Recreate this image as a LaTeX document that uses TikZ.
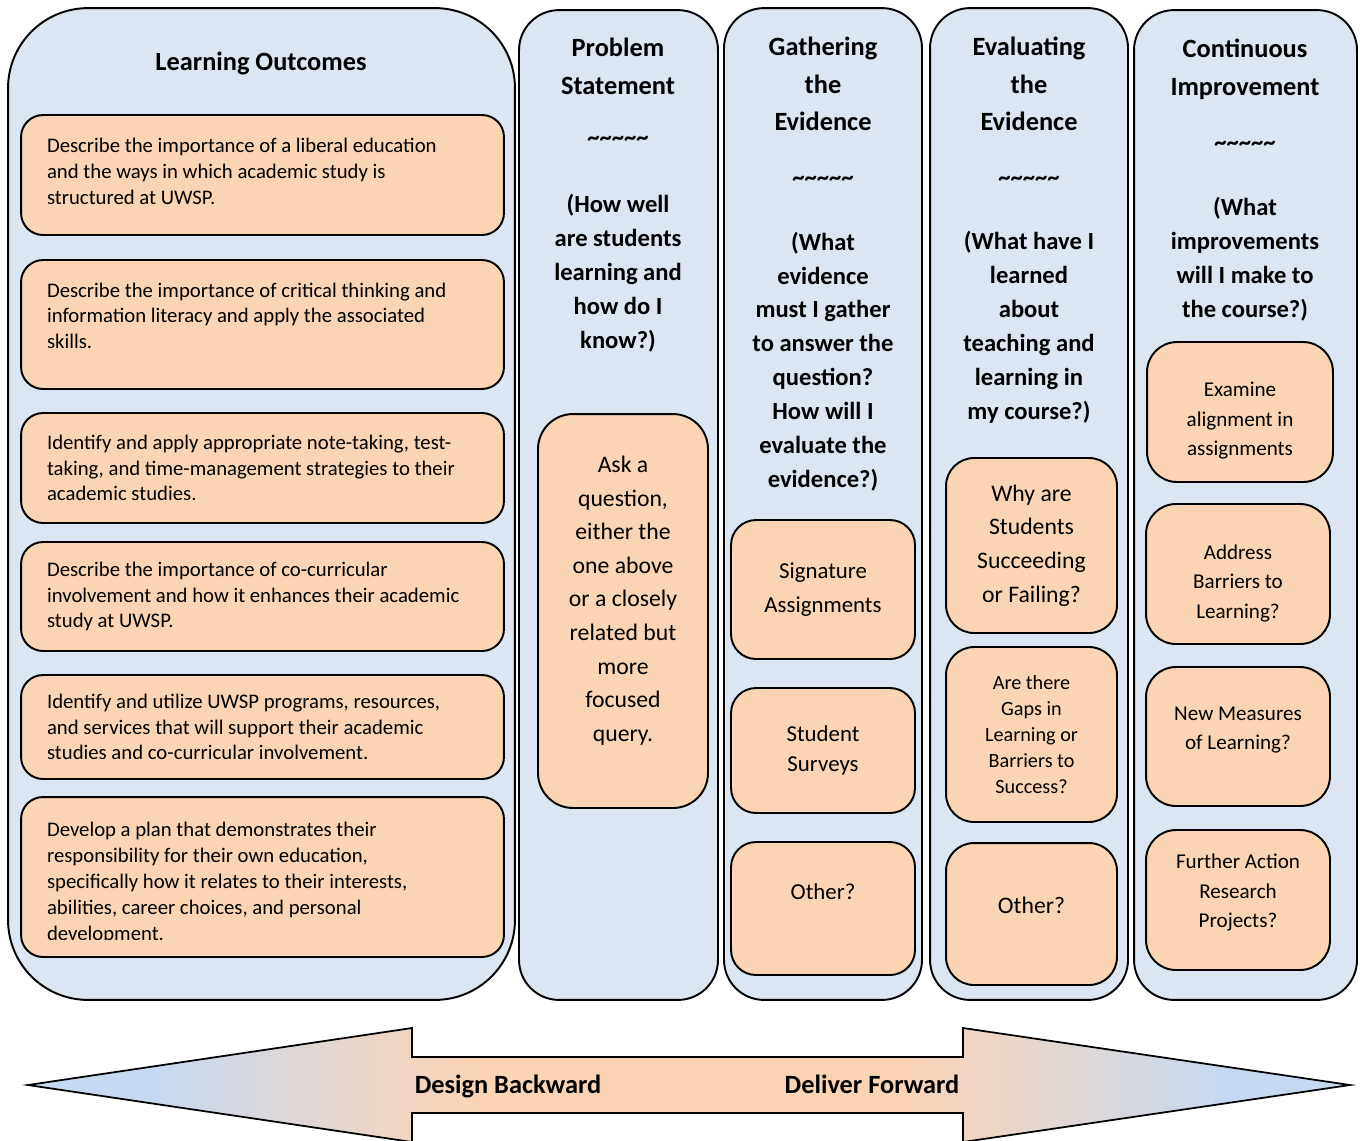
\documentclass[tikz,border=0pt]{standalone}
\usepackage{fontspec}
\setmainfont{Carlito}
\usepackage[HTML]{xcolor}
\usetikzlibrary{positioning}

\definecolor{colblue}{HTML}{DCE6F2}
\definecolor{peach}{HTML}{FBD4B4}
\definecolor{arrowblue}{HTML}{C6D9F1}

\newcommand{\titlefont}{\fontsize{15}{21.5}\selectfont\bfseries}
\newcommand{\askfont}{\fontsize{14}{19.3}\selectfont\bfseries}
\newcommand{\tildes}{\textasciitilde\textasciitilde\textasciitilde\textasciitilde\textasciitilde}
% struts that push a box text down (top) or up (bottom)
\newcommand{\topstrut}[1]{\rule{0pt}{#1}}
\newcommand{\botstrut}[1]{\rule[-#1]{0pt}{0pt}}
% outline of the double arrow
\newcommand{\twowaypath}{(28,1085) -- (412,1028) -- (412,1057) -- (963,1057) -- (963,1028) -- (1350,1085) -- (963,1142) -- (963,1113) -- (412,1113) -- (412,1142) -- cycle}

\begin{document}
\begin{tikzpicture}[x=0.02cm, y=-0.02cm, line width=1.1pt,
  every node/.style={font=\normalsize},
  stagecol/.style 2 args={draw, fill=colblue, rounded corners=0.8cm, minimum width=#1cm, minimum height=#2cm, inner sep=0pt},
  outcome/.style={draw, fill=peach, rounded corners=0.44cm, minimum width=9.66cm, minimum height=#1cm, inner xsep=0.52cm, inner ysep=0pt},
  outtext/.style={text width=8.62cm, align=flush left, font=\fontsize{11.8}{14.7}\selectfont},
  answer/.style 2 args={draw, fill=peach, align=center, minimum width=#1cm, minimum height=#2cm, inner sep=0pt, rounded corners=0.5cm}]
\useasboundingbox (0,0) rectangle (1364,1140);

% The five stages
\node[stagecol={10.14}{19.84}, rounded corners=1.6cm] (lo) at (261.5,504) {};
\node[stagecol={3.98}{19.8}] (ps) at (618.5,505) {};
\node[stagecol={3.96}{19.84}] (ge) at (823,504) {};
\node[stagecol={3.96}{19.84}] (ee) at (1029,504) {};
\node[stagecol={4.46}{19.8}] (ci) at (1245.5,505) {};

% Headers
\node[font=\titlefont] (loT) at (261,63) {Learning Outcomes};
\node[font=\titlefont, align=center] (psT) at (618,66) {Problem\\Statement};
\node[font=\askfont] (psS) at (618,141) {\tildes};
\node[font=\askfont, align=center] (psQ) at (618,273) {(How well\\are students\\learning and\\how do I\\know?)};
\node[font=\titlefont, align=center] (geT) at (823,84) {Gathering\\the\\Evidence};
\node[font=\askfont] (geS) at (823,181) {\tildes};
\node[font=\askfont, align=center] (geQ) at (823,361.5) {(What\\evidence\\must I gather\\to answer the\\question?\\How will I\\evaluate the\\evidence?)};
\node[font=\titlefont, align=center] (eeT) at (1029,84) {Evaluating\\the\\Evidence};
\node[font=\askfont] (eeS) at (1029,181) {\tildes};
\node[font=\askfont, align=center] (eeQ) at (1029,327.5) {(What have I\\learned\\about\\teaching and\\learning in\\my course?)};
\node[font=\titlefont, align=center] (ciT) at (1245,69) {Continuous\\Improvement};
\node[font=\askfont] (ciS) at (1245,146) {\tildes};
\node[font=\askfont, align=center] (ciQ) at (1245,259) {(What\\improvements\\will I make to\\the course?)};

% Learning outcomes
\node[outcome=2.4, outtext] (lo1) at (262.5,175) {Describe the importance of a liberal education\\and the ways in which academic study is\\structured at UWSP.\botstrut{4.5pt}};
\node[outcome=2.58, outtext] (lo2) at (262.5,324.5) {Describe the importance of critical thinking and\\information literacy and apply the associated\\skills.\botstrut{10pt}};
\node[outcome=2.2, outtext] (lo3) at (262.5,468) {Identify and apply appropriate note-taking, test-\\taking, and time-management strategies to their\\academic studies.};
\node[outcome=2.18, outtext] (lo4) at (262.5,596.5) {Describe the importance of co-curricular\\involvement and how it enhances their academic\\study at UWSP.};
\node[outcome=2.08, outtext] (lo5) at (262.5,727) {Identify and utilize UWSP programs, resources,\\and services that will support their academic\\studies and co-curricular involvement.};
\node[outcome=3.2] (lo6) at (262.5,877) {};
\begin{scope}
\clip (21,797) rectangle (504,939);
\node[outtext] (lo6t) at (262.5,883) {Develop a plan that demonstrates their\\responsibility for their own education,\\specifically how it relates to their interests,\\abilities, career choices, and personal\\development.};
\end{scope}

% Problem statement
\node[answer={3.4}{7.88}, rounded corners=0.7cm, font=\fontsize{13.5}{19.1}\selectfont] (ps1) at (623,611) {Ask a\\question,\\either the\\one above\\or a closely\\related but\\more\\focused\\query.\botstrut{14pt}};

% Gathering the evidence
\node[answer={3.68}{2.78}, font=\fontsize{13}{19.3}\selectfont] (ge1) at (823,589.5) {Signature\\Assignments};
\node[answer={3.68}{2.5}, font=\fontsize{13}{17}\selectfont] (ge2) at (823,750.5) {Student\\Surveys};
\node[answer={3.68}{2.66}, font=\fontsize{13}{19.3}\selectfont] (ge3) at (823,908.5) {Other?\\\mbox{}};

% Evaluating the evidence
\node[answer={3.42}{3.5}, rounded corners=0.56cm, font=\fontsize{13.5}{19.1}\selectfont] (ee1) at (1031.5,545.5) {Why are\\Students\\Succeeding\\or Failing?};
\node[answer={3.42}{3.5}, rounded corners=0.56cm, font=\fontsize{11.5}{14.7}\selectfont] (ee2) at (1031.5,734.5) {Are there\\Gaps in\\Learning or\\Barriers to\\Success?};
\node[answer={3.42}{2.84}, rounded corners=0.56cm, font=\fontsize{13.5}{19.1}\selectfont] (ee3) at (1031.5,914) {Other?\botstrut{10pt}};

% Continuous improvement
\node[answer={3.72}{2.8}, rounded corners=0.6cm, font=\fontsize{12}{17}\selectfont] (ci1) at (1240,412) {\topstrut{18pt}Examine\\alignment in\\assignments};
\node[answer={3.68}{2.8}, rounded corners=0.6cm, font=\fontsize{12}{17}\selectfont] (ci2) at (1238,574) {\topstrut{19pt}Address\\Barriers to\\Learning?};
\node[answer={3.68}{2.78}, rounded corners=0.6cm, font=\fontsize{12}{17}\selectfont] (ci3) at (1238,736.5) {New Measures\\of Learning?\botstrut{9.5pt}};
\node[answer={3.68}{2.8}, rounded corners=0.6cm, font=\fontsize{12}{17}\selectfont] (ci4) at (1238,900) {Further Action\\Research\\Projects?\botstrut{10.5pt}};

% Double arrow
\begin{scope}
\clip \twowaypath;
\fill[arrowblue] (20,1020) rectangle (151,1145);
\shade[left color=arrowblue, right color=peach] (150,1020) rectangle (480,1145);
\fill[peach] (479,1020) rectangle (897,1145);
\shade[left color=peach, right color=arrowblue] (896,1020) rectangle (1228,1145);
\fill[arrowblue] (1227,1020) rectangle (1360,1145);
\end{scope}
\draw[line width=1pt] \twowaypath;
\node[font=\titlefont, anchor=base] (back) at (508,1093) {Design Backward};
\node[font=\titlefont, anchor=base] (fwd) at (872,1093) {Deliver Forward};
\end{tikzpicture}
\end{document}
